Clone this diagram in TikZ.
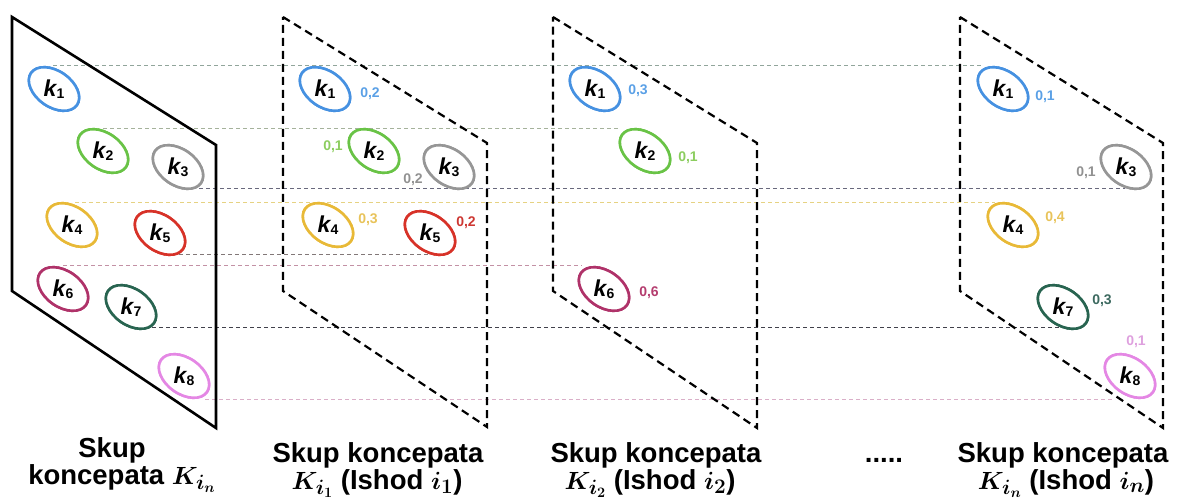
\documentclass[tikz,border=0pt]{standalone}
\usepackage{fontspec}
\setmainfont{Liberation Sans}
\usetikzlibrary{shapes.geometric,calc}
\definecolor{cA}{RGB}{70,145,225}
\definecolor{cB}{RGB}{105,195,70}
\definecolor{cC}{RGB}{150,150,150}
\definecolor{cD}{RGB}{232,185,55}
\definecolor{cE}{RGB}{215,50,40}
\definecolor{cF}{RGB}{175,50,105}
\definecolor{cG}{RGB}{40,100,80}
\definecolor{cH}{RGB}{228,135,228}
\definecolor{vA}{RGB}{90,160,230}
\definecolor{vB}{RGB}{140,205,95}
\definecolor{vC}{RGB}{145,145,145}
\definecolor{vD}{RGB}{232,195,90}
\definecolor{vE}{RGB}{205,55,50}
\definecolor{vF}{RGB}{180,60,110}
\definecolor{vG}{RGB}{60,105,95}
\definecolor{vH}{RGB}{222,160,222}
\definecolor{lA}{RGB}{145,165,155}
\definecolor{lB}{RGB}{165,178,155}
\definecolor{lC}{RGB}{105,105,125}
\definecolor{lD}{RGB}{230,210,130}
\definecolor{lE}{RGB}{130,120,120}
\definecolor{lF}{RGB}{195,145,165}
\definecolor{lG}{RGB}{65,65,75}
\definecolor{lH}{RGB}{218,175,200}
\newcommand{\kname}[1]{{\fontsize{23}{23}\selectfont\bfseries\itshape k}\raisebox{-0.4ex}{\fontsize{14}{14}\selectfont\bfseries #1}}
\newcommand{\capmath}[1]{{\fontsize{30}{32}\selectfont\boldmath$#1$}}
\begin{document}
\begin{tikzpicture}[x=1pt,y=-1pt,
  conc/.style={ellipse, draw=#1, line width=2.6pt, minimum width=56pt, minimum height=36pt, inner sep=0pt, rotate=-35},
  klab/.style={inner sep=0pt},
  val/.style={text=#1, font=\bfseries\fontsize{14}{14}\selectfont, inner sep=0pt},
  hline/.style={draw=#1, line width=1pt, dash pattern=on 4pt off 3pt},
  panelS/.style={line width=2.6pt, line join=miter},
  panelD/.style={line width=2.2pt, dash pattern=on 8pt off 5pt},
  captxt/.style={font=\bfseries\fontsize{27.5}{32}\selectfont, inner sep=0pt, anchor=base}
]
\useasboundingbox (0,0) rectangle (1180,502);

% ellipses (positions)
\node[conc=cA] (k1a) at (54,89) {};
\node[conc=cB] (k2a) at (103,151) {};
\node[conc=cC] (k3a) at (178,167) {};
\node[conc=cD] (k4a) at (72,225) {};
\node[conc=cE] (k5a) at (160,233) {};
\node[conc=cF] (k6a) at (63,289) {};
\node[conc=cG] (k7a) at (131,307) {};
\node[conc=cH] (k8a) at (184,376) {};

\node[conc=cA] (k1b) at (325,89) {};
\node[conc=cB] (k2b) at (374,151) {};
\node[conc=cC] (k3b) at (449,167) {};
\node[conc=cD] (k4b) at (328,225) {};
\node[conc=cE] (k5b) at (430,233) {};

\node[conc=cA] (k1c) at (595,89) {};
\node[conc=cB] (k2c) at (645,151) {};
\node[conc=cF] (k6c) at (604,289) {};

\node[conc=cA] (k1d) at (1003,89) {};
\node[conc=cC] (k3d) at (1126,167) {};
\node[conc=cD] (k4d) at (1013,225) {};
\node[conc=cG] (k7d) at (1063,307) {};
\node[conc=cH] (k8d) at (1130,376) {};

% horizontal guide lines
\draw[hline=lA] ($(k1a)+(-1,-23)$) -- ($(k1d)+(-20,-23)$);
\draw[hline=lB] ($(k2a)+(0,-22)$) -- ($(k2c)+(-25,-22)$);
\draw[hline=lC] ($(k3a)+(21,22)$) -- ($(k3d)+(-1,22)$);
\draw[hline=lD] ($(k4a)+(3,-22)$) -- ($(k4d)+(-18,-22)$);
\draw[hline=lE] ($(k5a)+(5,22)$) -- ($(k5b)+(0,22)$);
\draw[hline=lF] ($(k6a)+(0,-23)$) -- ($(k6c)+(-22,-23)$);
\draw[hline=lG] ($(k7a)+(14,21)$) -- ($(k7d)+(-1,21)$);
\draw[hline=lH] ($(k8a)+(21,23)$) -- ($(k8d)+(-15,23)$);

% panels
\draw[panelS] (12,17) -- (216,145) -- (216,428) -- (12,291) -- cycle;
\draw[panelD] (283,17) -- (487,143) -- (487,427) -- (283,291) -- cycle;
\draw[panelD] (553,17) -- (757,143) -- (757,428) -- (553,291) -- cycle;
\draw[panelD] (960,17) -- (1163,143) -- (1163,428) -- (960,291) -- cycle;

% redraw ellipses on top
\foreach \n/\c in {k1a/cA,k2a/cB,k3a/cC,k4a/cD,k5a/cE,k6a/cF,k7a/cG,k8a/cH,k1b/cA,k2b/cB,k3b/cC,k4b/cD,k5b/cE,k1c/cA,k2c/cB,k6c/cF,k1d/cA,k3d/cC,k4d/cD,k7d/cG,k8d/cH}
  \node[conc=\c, fill=white] at (\n) {};

% concept names
\node[klab] (t1a) at (k1a) {\kname{1}};
\node[klab] (t2a) at (k2a) {\kname{2}};
\node[klab] (t3a) at (k3a) {\kname{3}};
\node[klab] (t4a) at (k4a) {\kname{4}};
\node[klab] (t5a) at (k5a) {\kname{5}};
\node[klab] (t6a) at (k6a) {\kname{6}};
\node[klab] (t7a) at (k7a) {\kname{7}};
\node[klab] (t8a) at (k8a) {\kname{8}};
\node[klab] (t1b) at (k1b) {\kname{1}};
\node[klab] (t2b) at (k2b) {\kname{2}};
\node[klab] (t3b) at (k3b) {\kname{3}};
\node[klab] (t4b) at (k4b) {\kname{4}};
\node[klab] (t5b) at (k5b) {\kname{5}};
\node[klab] (t1c) at (k1c) {\kname{1}};
\node[klab] (t2c) at (k2c) {\kname{2}};
\node[klab] (t6c) at (k6c) {\kname{6}};
\node[klab] (t1d) at (k1d) {\kname{1}};
\node[klab] (t3d) at (k3d) {\kname{3}};
\node[klab] (t4d) at (k4d) {\kname{4}};
\node[klab] (t7d) at (k7d) {\kname{7}};
\node[klab] (t8d) at (k8d) {\kname{8}};

% values
\node[val=vA] (v1b) at (370,94) {0,2};
\node[val=vB] (v2b) at (333,147) {0,1};
\node[val=vC] (v3b) at (413,180) {0,2};
\node[val=vD] (v4b) at (368,220) {0,3};
\node[val=vE] (v5b) at (466,223) {0,2};
\node[val=vA] (v1c) at (638,91) {0,3};
\node[val=vB] (v2c) at (688,158) {0,1};
\node[val=vF] (v6c) at (649,293) {0,6};
\node[val=vA] (v1d) at (1045,97) {0,1};
\node[val=vC] (v3d) at (1086,173) {0,1};
\node[val=vD] (v4d) at (1055,218) {0,4};
\node[val=vG] (v7d) at (1102,301) {0,3};
\node[val=vH] (v8d) at (1136,342) {0,1};

% captions
\node[captxt] (c1a) at (112,457) {Skup};
\node[captxt] (c1b) at (122,484) {koncepata \capmath{K_{i_n}}};
\node[captxt] (c2a) at (378,462) {Skup koncepata};
\node[captxt] (c2b) at (377,489) {\capmath{K_{i_1}} (Ishod \capmath{i_1})};
\node[captxt] (c3a) at (656,462) {Skup koncepata};
\node[captxt] (c3b) at (650,489) {\capmath{K_{i_2}} (Ishod \capmath{i_2})};
\node[captxt] (dots) at (884,462) {.....};
\node[captxt] (c4a) at (1063,462) {Skup koncepata};
\node[captxt] (c4b) at (1066,489) {\capmath{K_{i_n}} (Ishod \capmath{i_n})};
\end{tikzpicture}
\end{document}
